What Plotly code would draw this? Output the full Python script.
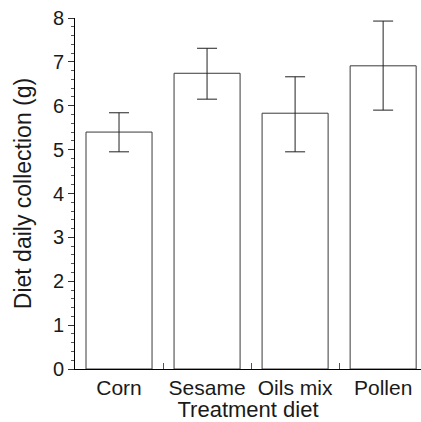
import plotly.graph_objects as go

categories = ["Corn", "Sesame", "Oils mix", "Pollen"]
means = [5.40, 6.74, 5.83, 6.91]
upper = [5.84, 7.31, 6.66, 7.93]
lower = [4.95, 6.15, 4.95, 5.90]

err_plus = [u - m for u, m in zip(upper, means)]
err_minus = [m - l for m, l in zip(means, lower)]

FONT = "Liberation Sans, Arial, Helvetica, sans-serif"

fig = go.Figure()
fig.add_trace(go.Bar(
    x=categories,
    y=means,
    marker=dict(color="white", line=dict(color="#3a3a3a", width=1)),
    error_y=dict(type="data", symmetric=False, array=err_plus, arrayminus=err_minus,
                 color="#222222", thickness=1, width=10),
    width=0.75,
))

fig.update_layout(
    width=421, height=422,
    margin=dict(l=75, r=0, t=18, b=53),
    paper_bgcolor="white", plot_bgcolor="white",
    showlegend=False,
    font=dict(family=FONT, color="#1a1a1a", size=20),
)
fig.update_xaxes(
    range=[-0.5, 3.43],
    showline=True, linecolor="black", linewidth=1,
    showgrid=False, zeroline=False,
    ticks="inside", tickson="boundaries", ticklen=6, tickcolor="#555", tickwidth=1,
    tickangle=0,
    tickfont=dict(size=21),
    title=dict(text="Treatment diet", font=dict(size=22), standoff=6),
    automargin=False,
)
fig.update_yaxes(
    range=[0, 8],
    showline=True, linecolor="black", linewidth=1,
    showgrid=False, zeroline=False,
    ticks="outside", ticklen=6, tickcolor="#333", tickwidth=1, dtick=1,
    minor=dict(ticks="outside", ticklen=3, dtick=0.2, tickcolor="#555", tickwidth=1, showgrid=False),
    tickfont=dict(size=20),
    title=dict(text="Diet daily collection (g)", font=dict(size=23), standoff=14),
    automargin=False,
)

fig.write_html("out.html", config={"displayModeBar": False},
               post_script="document.body.style.margin='0';")
